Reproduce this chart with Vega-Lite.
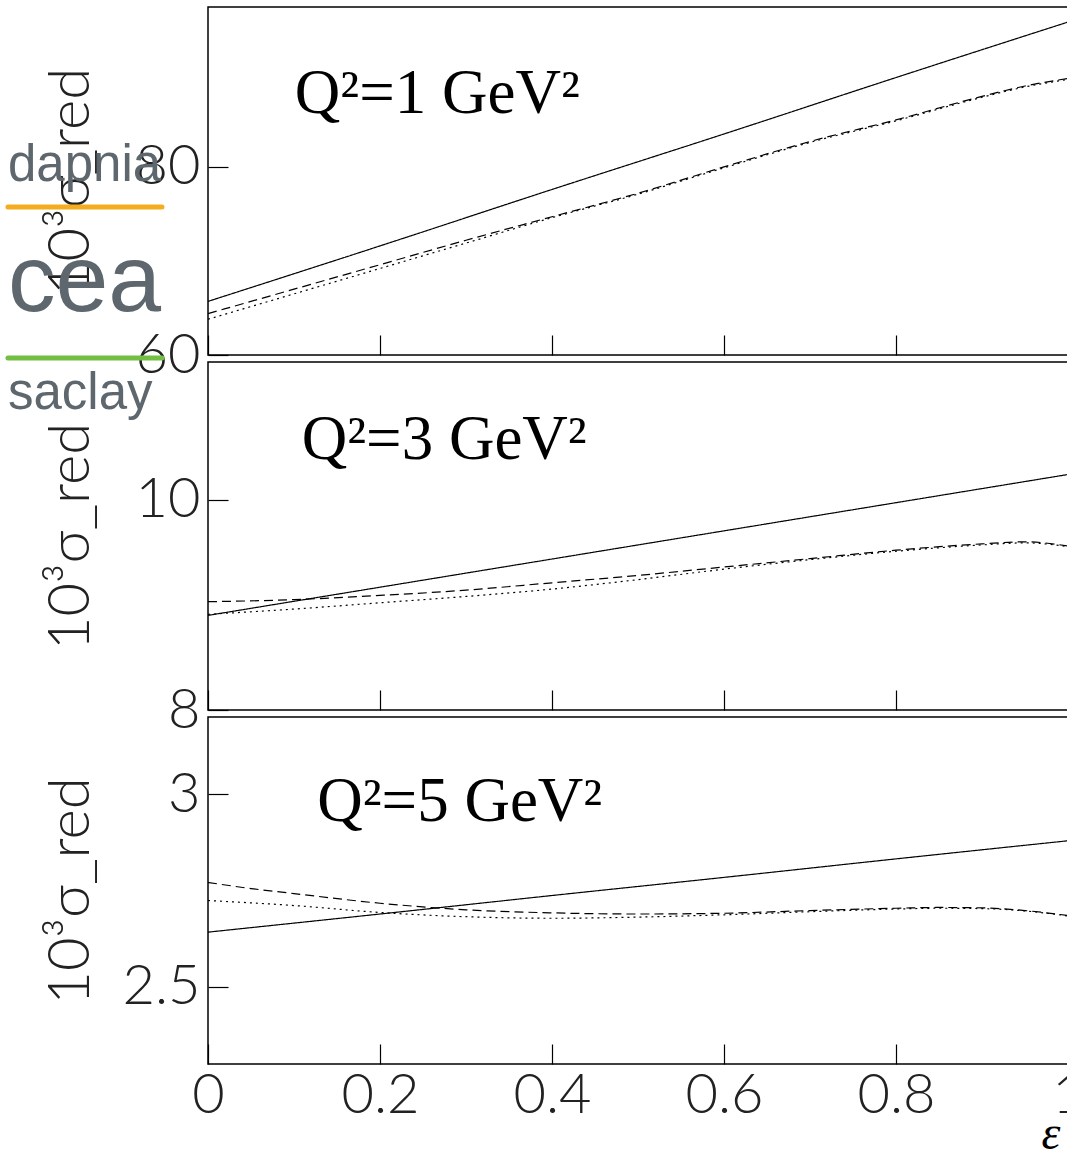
{
  "$schema": "https://vega.github.io/schema/vega-lite/v6.json",
  "padding": {"left": 4, "top": 6, "right": 0, "bottom": 0},
  "background": "white",
  "bounds": "flush",
  "spacing": 7,
  "config": {
    "view": {"stroke": "black", "strokeWidth": 1.5},
    "axis": {
      "grid": false, "domain": false, "tickColor": "black", "tickSize": -20, "tickWidth": 1.2,
      "labelFont": "Lato", "labelFontWeight": 300, "labelFontSize": 56, "labelColor": "#222",
      "titleFont": "Lato", "titleFontWeight": 300, "titleFontSize": 58, "titleColor": "#222"
    },
    "line": {"strokeWidth": 1.2, "color": "black"}
  },
  "datasets": {
    "p1": [
      {"model": "full", "eps": 0, "sigma": 65.7}, {"model": "full", "eps": 0.2, "sigma": 71.6}, {"model": "full", "eps": 0.4, "sigma": 77.6}, {"model": "full", "eps": 0.6, "sigma": 83.5}, {"model": "full", "eps": 0.8, "sigma": 89.5}, {"model": "full", "eps": 1, "sigma": 95.4},
      {"model": "dashed", "eps": 0, "sigma": 64.4}, {"model": "dashed", "eps": 0.1, "sigma": 67.0}, {"model": "dashed", "eps": 0.2, "sigma": 69.6}, {"model": "dashed", "eps": 0.3, "sigma": 72.2}, {"model": "dashed", "eps": 0.4, "sigma": 74.7}, {"model": "dashed", "eps": 0.5, "sigma": 77.2}, {"model": "dashed", "eps": 0.6, "sigma": 80.0}, {"model": "dashed", "eps": 0.7, "sigma": 82.7}, {"model": "dashed", "eps": 0.8, "sigma": 85.0}, {"model": "dashed", "eps": 0.9, "sigma": 87.5}, {"model": "dashed", "eps": 0.95, "sigma": 88.6}, {"model": "dashed", "eps": 1, "sigma": 89.4},
      {"model": "dotted", "eps": 0, "sigma": 63.8}, {"model": "dotted", "eps": 0.1, "sigma": 66.5}, {"model": "dotted", "eps": 0.2, "sigma": 69.2}, {"model": "dotted", "eps": 0.3, "sigma": 71.9}, {"model": "dotted", "eps": 0.4, "sigma": 74.6}, {"model": "dotted", "eps": 0.5, "sigma": 77.1}, {"model": "dotted", "eps": 0.6, "sigma": 79.9}, {"model": "dotted", "eps": 0.7, "sigma": 82.6}, {"model": "dotted", "eps": 0.8, "sigma": 84.9}, {"model": "dotted", "eps": 0.9, "sigma": 87.4}, {"model": "dotted", "eps": 0.95, "sigma": 88.5}, {"model": "dotted", "eps": 1, "sigma": 89.3}
    ],
    "p2": [
      {"model": "full", "eps": 0, "sigma": 8.90}, {"model": "full", "eps": 0.2, "sigma": 9.168}, {"model": "full", "eps": 0.4, "sigma": 9.436}, {"model": "full", "eps": 0.6, "sigma": 9.704}, {"model": "full", "eps": 0.8, "sigma": 9.972}, {"model": "full", "eps": 1, "sigma": 10.24},
      {"model": "dashed", "eps": 0, "sigma": 9.03}, {"model": "dashed", "eps": 0.1, "sigma": 9.05}, {"model": "dashed", "eps": 0.2, "sigma": 9.09}, {"model": "dashed", "eps": 0.3, "sigma": 9.14}, {"model": "dashed", "eps": 0.4, "sigma": 9.21}, {"model": "dashed", "eps": 0.5, "sigma": 9.28}, {"model": "dashed", "eps": 0.6, "sigma": 9.36}, {"model": "dashed", "eps": 0.7, "sigma": 9.44}, {"model": "dashed", "eps": 0.8, "sigma": 9.52}, {"model": "dashed", "eps": 0.9, "sigma": 9.58}, {"model": "dashed", "eps": 0.95, "sigma": 9.60}, {"model": "dashed", "eps": 1, "sigma": 9.56},
      {"model": "dotted", "eps": 0, "sigma": 8.91}, {"model": "dotted", "eps": 0.1, "sigma": 8.96}, {"model": "dotted", "eps": 0.2, "sigma": 9.02}, {"model": "dotted", "eps": 0.3, "sigma": 9.08}, {"model": "dotted", "eps": 0.4, "sigma": 9.15}, {"model": "dotted", "eps": 0.5, "sigma": 9.24}, {"model": "dotted", "eps": 0.6, "sigma": 9.34}, {"model": "dotted", "eps": 0.7, "sigma": 9.43}, {"model": "dotted", "eps": 0.8, "sigma": 9.51}, {"model": "dotted", "eps": 0.9, "sigma": 9.57}, {"model": "dotted", "eps": 0.95, "sigma": 9.59}, {"model": "dotted", "eps": 1, "sigma": 9.555}
    ],
    "p3": [
      {"model": "full", "eps": 0, "sigma": 2.642}, {"model": "full", "eps": 0.2, "sigma": 2.689}, {"model": "full", "eps": 0.4, "sigma": 2.737}, {"model": "full", "eps": 0.6, "sigma": 2.784}, {"model": "full", "eps": 0.8, "sigma": 2.832}, {"model": "full", "eps": 1, "sigma": 2.879},
      {"model": "dashed", "eps": 0, "sigma": 2.771}, {"model": "dashed", "eps": 0.05, "sigma": 2.755}, {"model": "dashed", "eps": 0.1, "sigma": 2.742}, {"model": "dashed", "eps": 0.2, "sigma": 2.717}, {"model": "dashed", "eps": 0.3, "sigma": 2.700}, {"model": "dashed", "eps": 0.4, "sigma": 2.692}, {"model": "dashed", "eps": 0.5, "sigma": 2.689}, {"model": "dashed", "eps": 0.6, "sigma": 2.691}, {"model": "dashed", "eps": 0.7, "sigma": 2.698}, {"model": "dashed", "eps": 0.8, "sigma": 2.704}, {"model": "dashed", "eps": 0.85, "sigma": 2.706}, {"model": "dashed", "eps": 0.9, "sigma": 2.705}, {"model": "dashed", "eps": 0.95, "sigma": 2.698}, {"model": "dashed", "eps": 1, "sigma": 2.685},
      {"model": "dotted", "eps": 0, "sigma": 2.724}, {"model": "dotted", "eps": 0.1, "sigma": 2.711}, {"model": "dotted", "eps": 0.2, "sigma": 2.693}, {"model": "dotted", "eps": 0.3, "sigma": 2.682}, {"model": "dotted", "eps": 0.4, "sigma": 2.678}, {"model": "dotted", "eps": 0.5, "sigma": 2.681}, {"model": "dotted", "eps": 0.6, "sigma": 2.687}, {"model": "dotted", "eps": 0.7, "sigma": 2.695}, {"model": "dotted", "eps": 0.8, "sigma": 2.702}, {"model": "dotted", "eps": 0.85, "sigma": 2.704}, {"model": "dotted", "eps": 0.9, "sigma": 2.703}, {"model": "dotted", "eps": 0.95, "sigma": 2.697}, {"model": "dotted", "eps": 1, "sigma": 2.684}
    ]
  },
  "vconcat": [
    {
      "width": 860, "height": 348,
      "layer": [
        {
          "data": {"name": "p1"},
          "mark": {"type": "line", "interpolate": "monotone"},
          "encoding": {
            "x": {"field": "eps", "type": "quantitative", "scale": {"domain": [0, 1], "nice": false}, "axis": {"values": [0, 0.2, 0.4, 0.6, 0.8, 1], "labels": false, "title": null}},
            "y": {"field": "sigma", "type": "quantitative", "scale": {"domain": [60, 97], "nice": false, "zero": false}, "axis": {"values": [60, 80], "format": "~g", "title": "10³σ_red", "minExtent": 80, "maxExtent": 80, "titlePadding": 28, "labelPadding": 28}},
            "strokeDash": {"field": "model", "type": "nominal", "scale": {"domain": ["full", "dashed", "dotted"], "range": [[1, 0], [9, 5], [2, 4]]}, "legend": null}
          }
        },
        {
          "data": {"values": [{"label": "Q²=1 GeV²"}]},
          "mark": {"type": "text", "font": "Liberation Serif", "fontSize": 63, "align": "left", "baseline": "alphabetic", "color": "black"},
          "encoding": {"x": {"datum": 0.101}, "y": {"datum": 85.7}, "text": {"field": "label"}}
        },
        {
          "data": {"values": [{"label": "dapnia"}]},
          "mark": {"type": "text", "font": "Liberation Sans", "fontSize": 51, "align": "left", "baseline": "alphabetic", "color": "#5d676d"},
          "encoding": {"x": {"datum": -0.2326}, "y": {"datum": 78.5}, "text": {"field": "label"}}
        },
        {
          "data": {"values": [{"label": "cea"}]},
          "mark": {"type": "text", "font": "Liberation Sans", "fontSize": 95, "align": "left", "baseline": "alphabetic", "color": "#5d676d"},
          "encoding": {"x": {"datum": -0.2326}, "y": {"datum": 64.68}, "text": {"field": "label"}}
        },
        {
          "data": {"values": [{"label": "saclay"}]},
          "mark": {"type": "text", "font": "Liberation Sans", "fontSize": 51, "align": "left", "baseline": "alphabetic", "color": "#5d676d"},
          "encoding": {"x": {"datum": -0.2326}, "y": {"datum": 54.26}, "text": {"field": "label"}}
        },
        {
          "data": {"values": [{}]},
          "mark": {"type": "rule", "strokeWidth": 5, "strokeCap": "round", "color": "#f6ac1f"},
          "encoding": {"x": {"datum": -0.2326}, "x2": {"datum": -0.0535}, "y": {"datum": 75.74}}
        },
        {
          "data": {"values": [{}]},
          "mark": {"type": "rule", "strokeWidth": 5, "strokeCap": "round", "color": "#72bf44"},
          "encoding": {"x": {"datum": -0.2326}, "x2": {"datum": -0.0535}, "y": {"datum": 59.68}}
        }
      ]
    },
    {
      "width": 860, "height": 348,
      "layer": [
        {
          "data": {"name": "p2"},
          "mark": {"type": "line", "interpolate": "monotone"},
          "encoding": {
            "x": {"field": "eps", "type": "quantitative", "scale": {"domain": [0, 1], "nice": false}, "axis": {"values": [0, 0.2, 0.4, 0.6, 0.8, 1], "labels": false, "title": null}},
            "y": {"field": "sigma", "type": "quantitative", "scale": {"domain": [8, 11.31], "nice": false, "zero": false}, "axis": {"values": [8, 10], "format": "~g", "title": "10³σ_red", "minExtent": 80, "maxExtent": 80, "titlePadding": 28, "labelPadding": 28}},
            "strokeDash": {"field": "model", "type": "nominal", "scale": {"domain": ["full", "dashed", "dotted"], "range": [[1, 0], [9, 5], [2, 4]]}, "legend": null}
          }
        },
        {
          "data": {"values": [{"label": "Q²=3 GeV²"}]},
          "mark": {"type": "text", "font": "Liberation Serif", "fontSize": 63, "align": "left", "baseline": "alphabetic", "color": "black"},
          "encoding": {"x": {"datum": 0.109}, "y": {"datum": 10.39}, "text": {"field": "label"}}
        }
      ]
    },
    {
      "width": 860, "height": 347,
      "layer": [
        {
          "data": {"name": "p3"},
          "mark": {"type": "line", "interpolate": "monotone"},
          "encoding": {
            "x": {"field": "eps", "type": "quantitative", "scale": {"domain": [0, 1], "nice": false}, "axis": {"values": [0, 0.2, 0.4, 0.6, 0.8, 1], "format": "~g", "labelFlush": false, "labelPadding": 24, "title": "ε", "titleFont": "Liberation Serif", "titleFontStyle": "italic", "titleFontWeight": "normal", "titleFontSize": 48, "titleColor": "black", "titleAnchor": "end", "titleX": 852, "titlePadding": -13}},
            "y": {"field": "sigma", "type": "quantitative", "scale": {"domain": [2.3, 3.2], "nice": false, "zero": false}, "axis": {"values": [2.5, 3], "format": "~g", "title": "10³σ_red", "minExtent": 80, "maxExtent": 80, "titlePadding": 28, "labelPadding": 28}},
            "strokeDash": {"field": "model", "type": "nominal", "scale": {"domain": ["full", "dashed", "dotted"], "range": [[1, 0], [9, 5], [2, 4]]}, "legend": null}
          }
        },
        {
          "data": {"values": [{"label": "Q²=5 GeV²"}]},
          "mark": {"type": "text", "font": "Liberation Serif", "fontSize": 63, "align": "left", "baseline": "alphabetic", "color": "black"},
          "encoding": {"x": {"datum": 0.127}, "y": {"datum": 2.93}, "text": {"field": "label"}}
        }
      ]
    }
  ]
}
